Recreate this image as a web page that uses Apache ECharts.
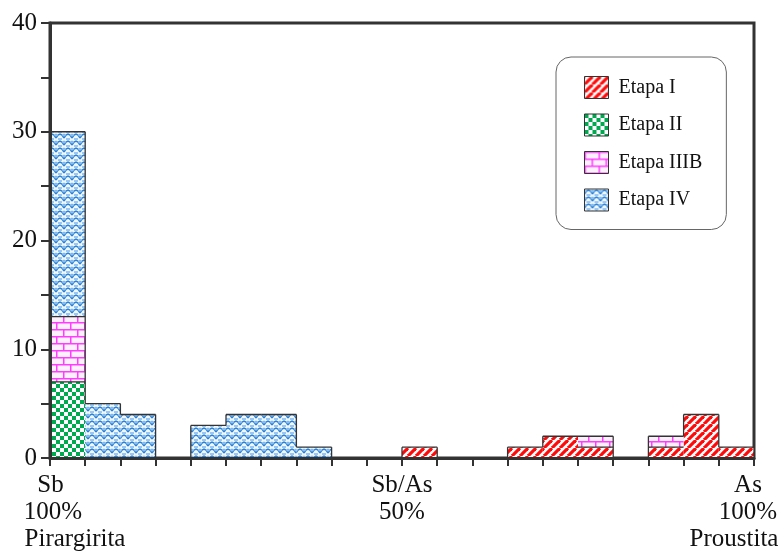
<!DOCTYPE html>
<html><head><meta charset="utf-8">
<script src="https://cdn.jsdelivr.net/npm/echarts@6/dist/echarts.min.js"></script>
<style>html,body{margin:0;padding:0;background:#fff}#c{width:781px;height:552px}</style>
</head><body><div id="c"></div>
<script>
// 20 bins of 5% (Sb -> As)
const bins = ['0-5','5-10','10-15','15-20','20-25','25-30','30-35','35-40','40-45','45-50',
              '50-55','55-60','60-65','65-70','70-75','75-80','80-85','85-90','90-95','95-100'];
const etapaI    = [null,null,null,null,null,null,null,null,null,null, 1,null,null,1,2,1,null,1,4,1];
const etapaII   = [7,null,null,null,null,null,null,null,null,null, null,null,null,null,null,null,null,null,null,null];
const etapaIIIB = [6,null,null,null,null,null,null,null,null,null, null,null,null,null,null,1,null,1,null,null];
const etapaIV   = [17,5,4,null,3,4,4,1,null,null, null,null,null,null,null,null,null,null,null,null];
const seriesNames = ['Etapa I','Etapa II','Etapa IIIB','Etapa IV'];
const xTickLabels = {0:['Sb','100%','Pirargirita'], 50:['Sb/As','50%'], 100:['As','100%','Proustita']};

function cv(w,h){const c=document.createElement('canvas');c.width=w;c.height=h;return c;}
function stripes(){const c=cv(8,8),g=c.getContext('2d');g.fillStyle='#fff';g.fillRect(0,0,8,8);
  g.strokeStyle='#ff0a0a';g.lineWidth=3.2;for(const o of [-8,0,8]){g.beginPath();g.moveTo(o,8);g.lineTo(o+8,0);g.stroke();}return c;}
function checker(){const c=cv(8,8),g=c.getContext('2d');g.fillStyle='#fff';g.fillRect(0,0,8,8);
  g.fillStyle='#00a84f';g.fillRect(0,0,4,4);g.fillRect(4,4,4,4);return c;}
function brick(){const c=cv(14,14),g=c.getContext('2d');g.fillStyle='#fdf0fd';g.fillRect(0,0,14,14);
  g.fillStyle='#ff3cff';g.fillRect(0,0,14,1.5);g.fillRect(0,7,14,1.5);g.fillRect(0,0,1.5,7);g.fillRect(7,7,1.5,7);return c;}
function wave(){const c=cv(8,7),g=c.getContext('2d');g.fillStyle='#f0f7ff';g.fillRect(0,0,8,7);
  g.lineWidth=1.4;g.strokeStyle='#2a80d4';g.beginPath();g.moveTo(0,5);g.lineTo(2,2);g.lineTo(4,1);g.lineTo(6,2);g.lineTo(8,5);g.stroke();
  g.strokeStyle='#7db8ee';g.beginPath();g.moveTo(0,1);g.lineTo(1.5,3);g.moveTo(6.5,3);g.lineTo(8,1);g.moveTo(2,6);g.lineTo(6,6);g.stroke();
  return c;}

const pats = [stripes(),checker(),brick(),wave()];
const dataArr = [etapaI,etapaII,etapaIIIB,etapaIV];
const font = '"Liberation Serif","Times New Roman",serif';
const LS = {fontFamily:font,fontSize:25,lineHeight:27,color:'#111'};

// cumulative stack boundaries per bin (derived from the series arrays)
function cum(i){const out=[];let s=0;for(const a of dataArr){const v=a[i]||0;if(v>0){s+=v;out.push(s);}}return out;}
function total(i){if(i<0||i>=bins.length)return 0;let s=0;for(const a of dataArr)s+=(a[i]||0);return s;}

const outline = {
  type:'custom',xAxisIndex:0,yAxisIndex:0,silent:true,z:5,
  data:bins.map(function(b,i){return [i];}),
  renderItem:function(params,api){
    const i=api.value(0);
    const c=api.coord([i,0]);const w=api.size([1,0])[0];
    const xl=c[0]-w/2, xr=c[0]+w/2;
    const st={stroke:'#333',lineWidth:1.3};
    const kids=[];
    const t=total(i), tp=total(i-1);
    cum(i).forEach(function(v){const y=api.coord([i,v])[1];
      kids.push({type:'line',shape:{x1:xl,y1:y,x2:xr,y2:y},style:st});});
    if(t!==tp){kids.push({type:'line',shape:{x1:xl,y1:api.coord([i,tp])[1],x2:xl,y2:api.coord([i,t])[1]},style:st});}
    if(i===bins.length-1&&t>0){kids.push({type:'line',shape:{x1:xr,y1:api.coord([i,0])[1],x2:xr,y2:api.coord([i,t])[1]},style:st});}
    return {type:'group',children:kids};
  }
};

const chart = echarts.init(document.getElementById('c'),null,{renderer:'canvas'});
chart.setOption({
  animation:false,
  backgroundColor:'#fff',
  grid:{left:50,right:27,top:23,bottom:94,containLabel:false,outerBoundsMode:'none',
        show:true,borderColor:'#333',borderWidth:3,backgroundColor:'transparent'},
  legend:{
    orient:'vertical',left:556,top:57,
    data:seriesNames,
    itemWidth:24,itemHeight:22,itemGap:14.5,
    padding:[19,24,18,28],
    backgroundColor:'#fff',borderColor:'#666',borderWidth:1,borderRadius:15,
    icon:'rect',
    itemStyle:{borderColor:'#333',borderWidth:1},
    textStyle:{fontFamily:font,fontSize:20,color:'#111',padding:[0,0,0,5]}
  },
  xAxis:[
    {type:'category',data:bins,boundaryGap:true,
     axisLine:{lineStyle:{color:'#333',width:3}},
     axisTick:{show:true,interval:0,length:8,lineStyle:{color:'#333',width:2}},
     axisLabel:{show:false},splitLine:{show:false},z:10},
    {type:'value',min:0,max:100,interval:50,position:'bottom',
     axisLine:{show:false},axisTick:{show:false},splitLine:{show:false},
     axisLabel:{show:true,margin:14,fontFamily:font,fontSize:25,color:'#111',lineHeight:27,
       formatter:function(v){const l=xTickLabels[v];if(!l)return '';
         if(v===0) return '{a|'+l[0]+'}\n{b|'+l[1]+'}\n{c|'+l[2]+'}';
         if(v===100) return '{d|'+l[0]+'}\n{e|'+l[1]+'}\n{f|'+l[2]+'}';
         return '{m|'+l.join('}\n{m|')+'}';},
       rich:{
         a:Object.assign({},LS,{padding:[0,0,0,1]}),
         b:Object.assign({},LS,{padding:[0,0,0,6]}),
         c:Object.assign({},LS,{padding:[0,0,0,50]}),
         d:Object.assign({},LS,{padding:[0,12,0,0]}),
         e:Object.assign({},LS,{padding:[0,12,0,0]}),
         f:Object.assign({},LS,{padding:[0,40,0,0]}),
         m:Object.assign({},LS)
       }}}
  ],
  yAxis:{type:'value',min:0,max:40,interval:5,z:10,
    axisLine:{show:true,lineStyle:{color:'#333',width:3}},
    axisTick:{show:true,length:9,lineStyle:{color:'#333',width:2}},
    splitLine:{show:false},
    axisLabel:{margin:13,fontFamily:font,fontSize:25,color:'#111',
      formatter:function(v){return v%10===0?String(v):'';}}},
  series:seriesNames.map(function(n,i){return {
    name:n,type:'bar',stack:'s',xAxisIndex:0,data:dataArr[i],
    barCategoryGap:'0%',
    itemStyle:{color:{image:pats[i],repeat:'repeat'},borderWidth:0}
  };}).concat([outline])
});
</script></body></html>
